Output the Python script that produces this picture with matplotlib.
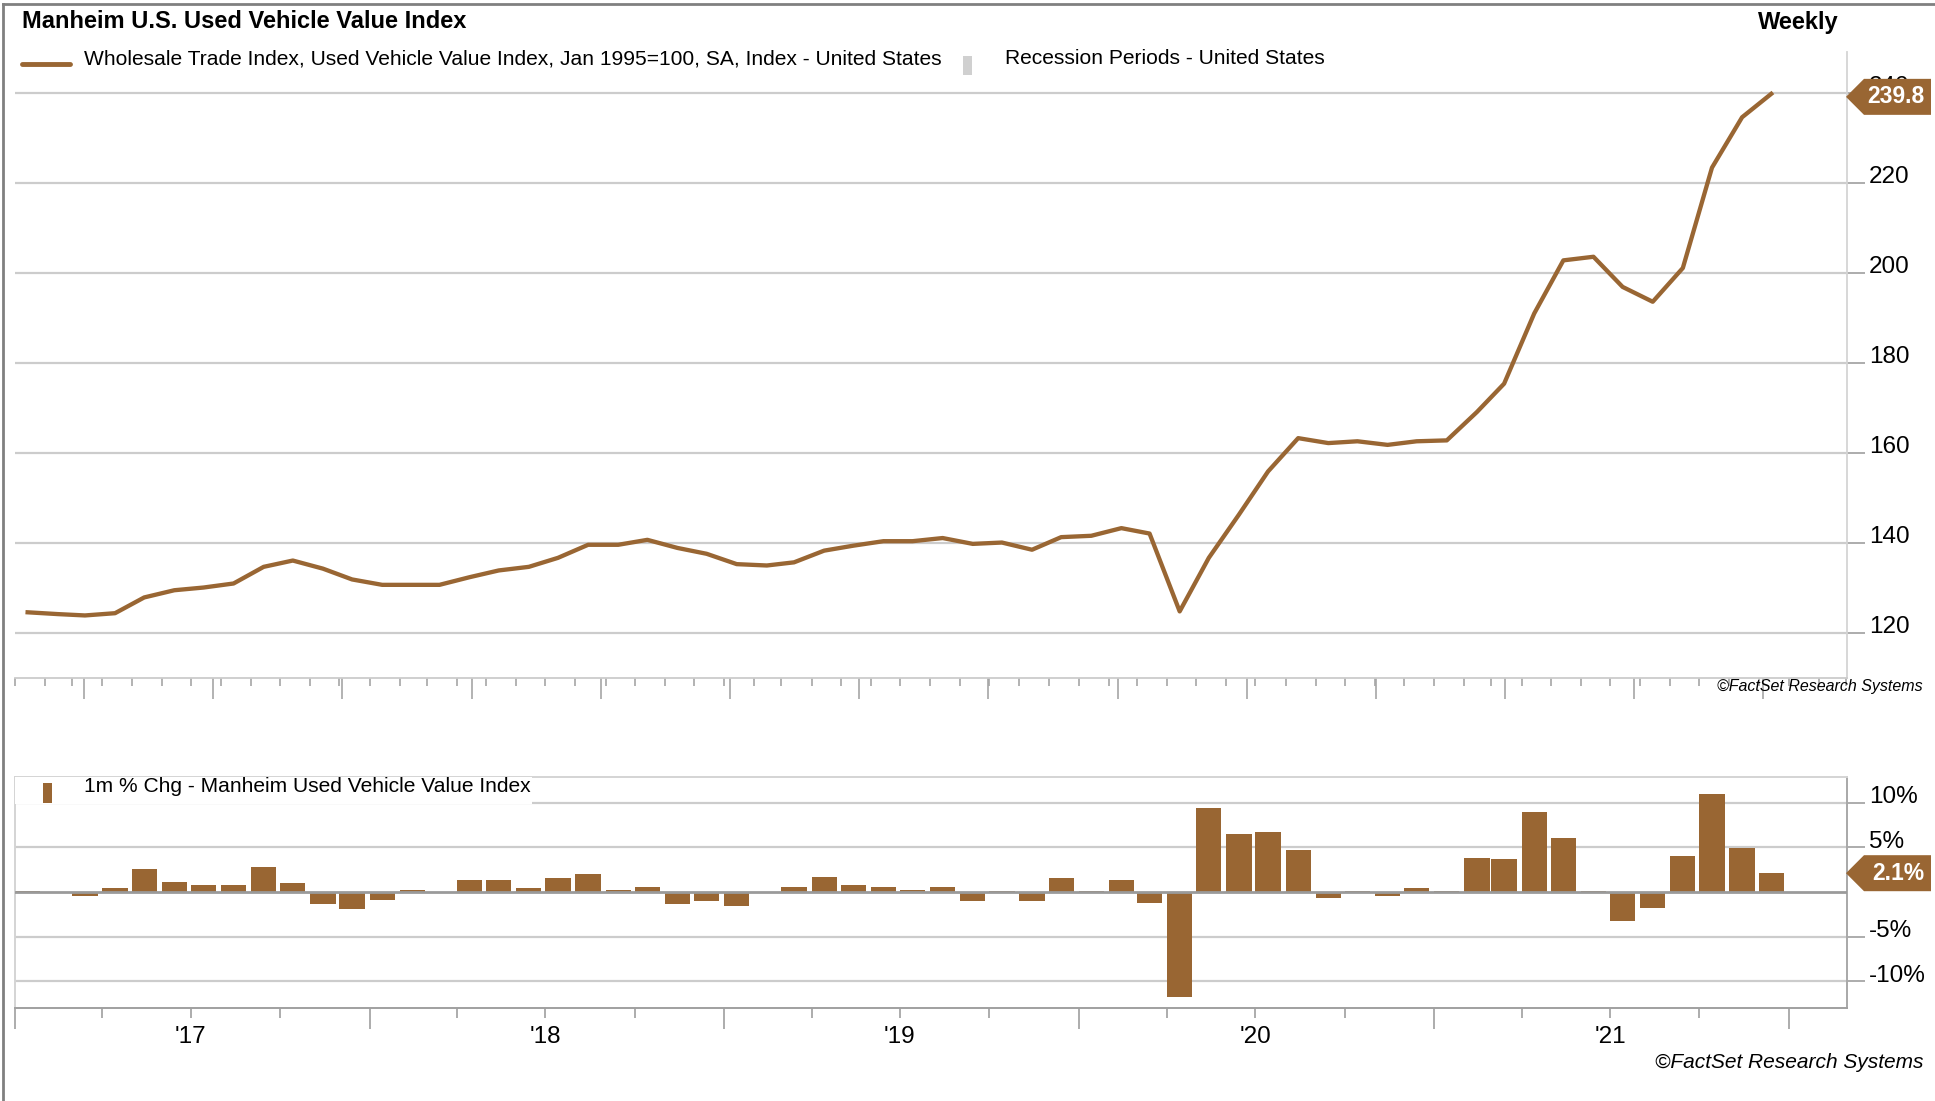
import matplotlib
matplotlib.use('Agg')
import matplotlib.pyplot as plt
import matplotlib.dates as mdates
from matplotlib.lines import Line2D
from matplotlib.patches import Polygon, Rectangle
from matplotlib.transforms import IdentityTransform, ScaledTranslation
import pandas as pd

plt.rcParams['font.family'] = ['Liberation Sans', 'DejaVu Sans']

# monthly readings, Jan 2017 - Dec 2021
months = pd.date_range('2017-01-01', periods=60, freq='MS') + pd.Timedelta(days=13)
index_values = [124.6, 124.2, 123.9, 124.4, 127.9, 129.5, 130.1, 131.0, 134.7, 136.1,
                134.3, 131.9, 130.7, 130.7, 130.7, 132.4, 133.9, 134.7, 136.7, 139.6,
                139.6, 140.7, 138.9, 137.6, 135.3, 135.0, 135.7, 138.3, 139.4, 140.4,
                140.4, 141.1, 139.8, 140.1, 138.5, 141.3, 141.6, 143.3, 142.1, 124.8,
                136.7, 146.3, 155.9, 163.3, 162.2, 162.6, 161.8, 162.6, 162.8, 169.1,
                175.4, 191.0, 202.8, 203.6, 196.9, 193.6, 201.1, 223.4, 234.6, 239.8]
pct_change = [0.1, -0.1, -0.4, 0.45, 2.6, 1.1, 0.8, 0.8, 2.8, 1.0,
              -1.3, -1.9, -0.85, 0.2, 0.05, 1.3, 1.3, 0.45, 1.55, 2.0,
              0.2, 0.55, -1.3, -1.0, -1.55, 0.05, 0.55, 1.65, 0.8, 0.55,
              0.2, 0.55, -1.0, 0.15, -1.0, 1.55, 0.15, 1.3, -1.2, -11.7,
              9.4, 6.5, 6.7, 4.7, -0.65, 0.15, -0.4, 0.45, 0.15, 3.8,
              3.7, 9.0, 6.0, 0.15, -3.3, -1.75, 4.0, 11.0, 4.9, 2.1]
year_labels = ["'17", "'18", "'19", "'20", "'21"]
years = [2017, 2018, 2019, 2020, 2021]

brown = '#996633'
grid_c = '#cccccc'
tick_c = '#a6a6a6'

W, H = 1935, 1101
fig = plt.figure(figsize=(W / 100, H / 100), dpi=100)


def box(l, t, r, b):
    return [l / W, 1 - b / H, (r - l) / W, (b - t) / H]


def lift_labels(ax):
    # labels sit slightly above their gridline
    off = ScaledTranslation(0, 8 / 100, fig.dpi_scale_trans)
    for lab in ax.get_yticklabels():
        lab.set_transform(lab.get_transform() + off)


x0 = pd.Timestamp('2017-01-01')
x1 = pd.Timestamp('2022-03-02')

# top panel - index level
ax1 = fig.add_axes(box(15, 52, 1847, 678))
ax1.plot(months, index_values, color=brown, lw=3.1, solid_joinstyle='round', zorder=3)
ax1.set_xlim(x0, x1)
ax1.set_ylim(110, 249.1)
ax1.set_yticks(range(120, 241, 20))
ax1.yaxis.tick_right()
ax1.grid(axis='y', color=grid_c, lw=1.6)
ax1.set_axisbelow(True)
for s in ['top', 'left']:
    ax1.spines[s].set_visible(False)
ax1.spines['right'].set_color('#d4d4d4')
ax1.spines['bottom'].set_color('#cccccc')
ax1.spines['right'].set_linewidth(1.3)
ax1.spines['bottom'].set_linewidth(1.3)
ax1.tick_params(axis='y', length=13, color=tick_c, width=1.3, labelsize=17.5, pad=3)
ax1.set_xticks(pd.date_range('2017-03-13', '2022-01-01', freq='133D'))
ax1.xaxis.set_minor_locator(mdates.MonthLocator())
ax1.tick_params(axis='x', which='major', length=15, color=tick_c, width=1.2, labelbottom=False)
ax1.tick_params(axis='x', which='minor', length=6, color=tick_c, width=1.2)
lift_labels(ax1)

# bottom panel - 1m % change
ax2 = fig.add_axes(box(15, 777, 1847, 1008))
ax2.bar(months, pct_change, width=26, color=brown, zorder=2)
ax2.axhline(0, color='#9a9a9a', lw=2, zorder=3)
ax2.set_xlim(x0, x1)
ax2.set_ylim(-12.98, 12.86)
ax2.set_yticks([-10, -5, 5, 10])
ax2.set_yticklabels(['-10%', '-5%', '5%', '10%'])
ax2.yaxis.tick_right()
ax2.grid(axis='y', color=grid_c, lw=1.6)
ax2.set_axisbelow(True)
ax2.spines['top'].set_color('#d4d4d4')
ax2.spines['left'].set_color('#d4d4d4')
ax2.spines['right'].set_color('#a8a8a8')
ax2.spines['bottom'].set_color('#a0a0a0')
for s in ax2.spines.values():
    s.set_linewidth(1.4)
ax2.tick_params(axis='y', length=13, color=tick_c, width=1.3, labelsize=17.5, pad=3)
ax2.xaxis.set_major_locator(mdates.YearLocator())
ax2.xaxis.set_minor_locator(mdates.MonthLocator((1, 4, 7, 10)))
ax2.tick_params(axis='x', which='major', length=15, color=tick_c, width=1.3, labelbottom=False)
ax2.tick_params(axis='x', which='minor', length=7, color=tick_c, width=1.3)
lift_labels(ax2)
for yr, lab in zip(years, year_labels):
    ax2.text(pd.Timestamp(f'{yr}-07-01'), -0.125, lab, transform=ax2.get_xaxis_transform(),
             ha='center', va='center', fontsize=17.5)

# bottom legend band
ax2.add_patch(Rectangle((0, 0.883), 0.282, 0.117, transform=ax2.transAxes,
                        facecolor='white', edgecolor='none', zorder=4))
fig.add_artist(Rectangle((43 / W, 1 - 803 / H), 9 / W, 20 / H, transform=fig.transFigure,
                         facecolor=brown, edgecolor='none'))
fig.text(84 / W, 1 - 786 / H, '1m % Chg - Manheim Used Vehicle Value Index',
         ha='left', va='center', fontsize=15.1)

# title and top legend
fig.text(22 / W, 1 - 22 / H, 'Manheim U.S. Used Vehicle Value Index', fontweight='bold',
         ha='left', va='center', fontsize=17)
fig.text(1839 / W, 1 - 22 / H, 'Weekly', fontweight='bold', ha='right', va='center', fontsize=17)
fig.add_artist(Line2D([22 / W, 70 / W], [1 - 64 / H, 1 - 64 / H], transform=fig.transFigure,
                      color=brown, lw=3.5, solid_capstyle='round'))
fig.text(84 / W, 1 - 59 / H,
         'Wholesale Trade Index, Used Vehicle Value Index, Jan 1995=100, SA, Index - United States',
         ha='left', va='center', fontsize=15.1)
fig.add_artist(Rectangle((963 / W, 1 - 75 / H), 9 / W, 19 / H, transform=fig.transFigure,
                         facecolor='#d0d0d0', edgecolor='none'))
fig.text(1005 / W, 1 - 59 / H, 'Recession Periods - United States',
         ha='left', va='center', fontsize=15.1)

fig.text(1923 / W, 1 - 687 / H, '\u00a9FactSet Research Systems', style='italic',
         ha='right', va='center', fontsize=11.5)
fig.text(1923 / W, 1 - 1062 / H, '\u00a9FactSet Research Systems', style='italic',
         ha='right', va='center', fontsize=15)

# figure frame (left and top)
fig.add_artist(Line2D([3 / W, 3 / W], [0, 1 - 4 / H], transform=fig.transFigure, color='#808080', lw=2))
fig.add_artist(Line2D([3 / W, 1], [1 - 4 / H, 1 - 4 / H], transform=fig.transFigure, color='#808080', lw=2))


# last-value badges
def badge(ax, val, text, dy=0):
    xr, yd = ax.get_yaxis_transform().transform((1, val))
    yd -= dy
    pts = [(xr - 1, yd), (xr + 17, yd + 18), (xr + 84, yd + 18), (xr + 84, yd - 18), (xr + 17, yd - 18)]
    fig.add_artist(Polygon(pts, closed=True, transform=IdentityTransform(),
                           facecolor=brown, edgecolor='none', zorder=10))
    fig.text(xr + 77, yd, text, transform=IdentityTransform(), ha='right', va='center',
             color='white', fontweight='bold', fontsize=16.5, zorder=11)


badge(ax1, index_values[-1], f'{index_values[-1]:.1f}', dy=3)
badge(ax2, pct_change[-1], f'{pct_change[-1]:.1f}%')

fig.savefig('out.png', dpi=100)
